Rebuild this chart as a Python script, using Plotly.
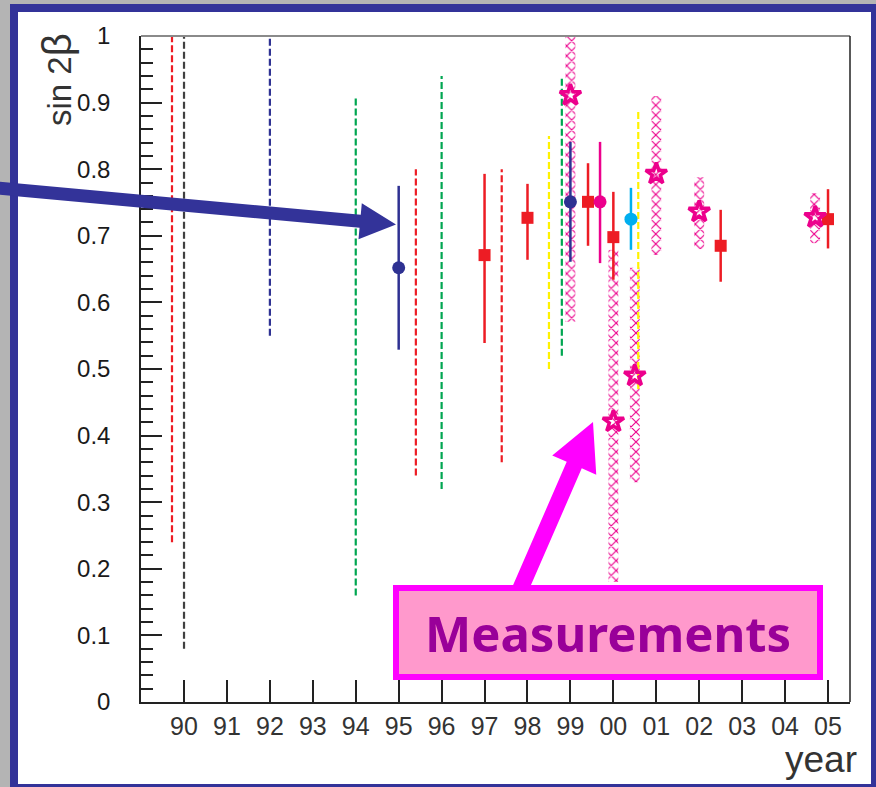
import math
import plotly.graph_objects as go

# ---------------- data ----------------
year_ticks = list(range(90, 106))
year_labels = ["90", "91", "92", "93", "94", "95", "96", "97", "98", "99",
               "00", "01", "02", "03", "04", "05"]
y_ticks = [0, 0.1, 0.2, 0.3, 0.4, 0.5, 0.6, 0.7, 0.8, 0.9, 1.0]
y_labels = ["0", "0.1", "0.2", "0.3", "0.4", "0.5", "0.6", "0.7", "0.8", "0.9", "1"]

RED = "#ed1c24"
NAVY = "#2e3192"
GREEN = "#00a651"
YELLOW = "#fff200"
DARK = "#404040"
MAGENTA = "#ec008c"
CYAN = "#00aeef"

# predicted ranges (dashed)
pred_x = [89.72, 90.0, 92.0, 94.0, 95.4, 96.0, 97.4, 98.5, 98.8, 100.58]
pred_lo = [0.24, 0.08, 0.55, 0.16, 0.34, 0.32, 0.36, 0.50, 0.52, 0.47]
pred_hi = [1.0, 1.0, 1.0, 0.91, 0.80, 0.94, 0.80, 0.85, 0.94, 0.89]
pred_color = [RED, DARK, NAVY, GREEN, RED, GREEN, RED, YELLOW, GREEN, YELLOW]

# measurements with error bars
meas_x = [95.0, 97.0, 98.0, 99.0, 99.41, 99.69, 100.0, 100.41, 102.5, 105.0]
meas_y = [0.652, 0.671, 0.727, 0.751, 0.751, 0.751, 0.698, 0.725, 0.685, 0.725]
meas_lo = [0.529, 0.539, 0.664, 0.661, 0.685, 0.659, 0.634, 0.679, 0.631, 0.681]
meas_hi = [0.775, 0.793, 0.778, 0.841, 0.809, 0.841, 0.766, 0.772, 0.739, 0.770]
meas_color = [NAVY, RED, RED, NAVY, RED, MAGENTA, RED, CYAN, RED, RED]
meas_symbol = ["circle", "square", "square", "circle", "square", "circle",
               "square", "circle", "square", "square"]

# star measurements with hatched bands
star_x = [99.0, 100.0, 100.5, 101.0, 102.0, 104.7]
star_y = [0.911, 0.421, 0.490, 0.793, 0.736, 0.728]
star_lo = [0.571, 0.180, 0.330, 0.671, 0.680, 0.689]
star_hi = [1.0, 0.679, 0.652, 0.910, 0.788, 0.764]

# ---------------- layout geometry (pixels) ----------------
W, H = 876, 787
PL, PR, PT, PB = 141, 850, 36, 702


def fx(px):
    return (px - PL) / (PR - PL)


def fy(py):
    return (PB - py) / (PB - PT)


def path(points):
    return "M " + " L ".join(f"{fx(x):.5f},{fy(y):.5f}" for x, y in points) + " Z"


def arrow_points(tail, tip, head_len, head_hw, shaft_hw):
    dx, dy = tip[0] - tail[0], tip[1] - tail[1]
    L = math.hypot(dx, dy)
    ux, uy = dx / L, dy / L
    nx, ny = -uy, ux
    bx, by = tip[0] - head_len * ux, tip[1] - head_len * uy
    return [
        (tail[0] + shaft_hw * nx, tail[1] + shaft_hw * ny),
        (bx + shaft_hw * nx, by + shaft_hw * ny),
        (bx + head_hw * nx, by + head_hw * ny),
        tip,
        (bx - head_hw * nx, by - head_hw * ny),
        (bx - shaft_hw * nx, by - shaft_hw * ny),
        (tail[0] - shaft_hw * nx, tail[1] - shaft_hw * ny),
    ]


fig = go.Figure()

# dashed prediction lines
for x, lo, hi, c in zip(pred_x, pred_lo, pred_hi, pred_color):
    fig.add_trace(go.Scatter(
        x=[x, x], y=[lo, hi], mode="lines",
        line=dict(color=c, width=2.2, dash="7px,3px"),
        showlegend=False, hoverinfo="skip"))

# hatched bands
fig.add_trace(go.Bar(
    x=star_x,
    y=[h - l for h, l in zip(star_hi, star_lo)],
    base=star_lo,
    width=0.23,
    marker=dict(color="rgba(0,0,0,0)", line=dict(width=0),
                pattern=dict(shape="x", size=7, solidity=0.3,
                             fgcolor=MAGENTA, fgopacity=1, fillmode="overlay")),
    showlegend=False, hoverinfo="skip"))

# measurements with error bars
for x, y, lo, hi, c, s in zip(meas_x, meas_y, meas_lo, meas_hi, meas_color, meas_symbol):
    fig.add_trace(go.Scatter(
        x=[x], y=[y], mode="markers",
        marker=dict(symbol=s, size=13 if s == "circle" else 12, color=c,
                    line=dict(width=0)),
        error_y=dict(type="data", symmetric=False, array=[hi - y],
                     arrayminus=[y - lo], color=c, thickness=2.5, width=0),
        showlegend=False))

# stars
fig.add_trace(go.Scatter(
    x=star_x, y=star_y, mode="markers",
    marker=dict(symbol="star-open", size=16, color=MAGENTA,
                line=dict(width=3.5, color=MAGENTA)),
    showlegend=False))

shapes = []
# outer white panel with navy border
shapes.append(dict(type="rect", xref="paper", yref="paper",
                   x0=fx(14), x1=fx(875), y0=fy(788), y1=fy(8),
                   line=dict(color="#333399", width=8), fillcolor="white",
                   layer="below"))
# frame: top gray, right black
shapes.append(dict(type="line", xref="paper", yref="paper",
                   x0=0, x1=1, y0=1, y1=1, line=dict(color="#8a8a8a", width=2)))
shapes.append(dict(type="line", xref="paper", yref="paper",
                   x0=1, x1=1, y0=0, y1=1, line=dict(color="#222222", width=1.5)))
# navy arrow
shapes.append(dict(type="path", xref="paper", yref="paper",
                   path=path(arrow_points((-2, 188), (396, 224.5), 36, 18, 6.5)),
                   fillcolor="#333399", line=dict(width=0)))
# magenta arrow
shapes.append(dict(type="path", xref="paper", yref="paper",
                   path=path(arrow_points((519, 592), (593, 422), 47, 24, 8.2)),
                   fillcolor="#ff00ff", line=dict(width=0)))
# Measurements box
shapes.append(dict(type="rect", xref="paper", yref="paper",
                   x0=fx(396), x1=fx(820), y0=fy(677), y1=fy(588),
                   line=dict(color="#ff00ff", width=6), fillcolor="#ff99cc"))

annotations = [
    dict(text="<b>Measurements</b>", xref="paper", yref="paper",
         x=fx(608), y=fy(633), showarrow=False, xanchor="center", yanchor="middle",
         font=dict(family="Noto Sans, DejaVu Sans", size=49, color="#990099")),
    dict(text="sin 2<span style='font-size:40px'>β</span>", xref="paper", yref="paper",
         x=fx(57), y=fy(80),
         showarrow=False, textangle=-90, xanchor="center", yanchor="middle",
         font=dict(family="Liberation Sans, Arial", size=33, color="#333333")),
    dict(text="year", xref="paper", yref="paper", x=fx(858), y=fy(759),
         showarrow=False, xanchor="right", yanchor="middle", borderpad=0,
         font=dict(family="Liberation Sans, Arial", size=37, color="#333333")),
]

fig.update_layout(
    width=W, height=H,
    margin=dict(l=PL, r=W - PR, t=PT, b=H - PB, pad=0),
    paper_bgcolor="#b4b4b4",
    plot_bgcolor="rgba(0,0,0,0)",
    showlegend=False,
    barmode="overlay",
    shapes=shapes,
    annotations=annotations,
    xaxis=dict(range=[88.998, 105.512], tickmode="array", tickvals=year_ticks,
               ticktext=year_labels, ticks="inside", ticklen=22, tickwidth=1.5,
               tickcolor="#222222", showline=True, linecolor="#222222", linewidth=1.5,
               showgrid=False, zeroline=False, ticklabelstandoff=1,
               tickfont=dict(family="Liberation Sans, Arial", size=25, color="#333333")),
    yaxis=dict(range=[0, 1], tickmode="array", tickvals=y_ticks, ticktext=y_labels,
               ticks="inside", ticklen=21, tickwidth=1.5, tickcolor="#222222",
               showline=True, linecolor="#222222", linewidth=1.5,
               showgrid=False, zeroline=False, ticklabelstandoff=24,
               minor=dict(tickmode="linear", tick0=0, dtick=0.02, ticks="inside",
                          ticklen=12, tickwidth=1.5, tickcolor="#222222", showgrid=False),
               tickfont=dict(family="Liberation Sans, Arial", size=24, color="#1a1a1a")),
)

fig.write_html("out.html",
               config={"displayModeBar": False},
               post_script="document.body.style.margin='0';"
                           "document.body.style.overflow='hidden';")
